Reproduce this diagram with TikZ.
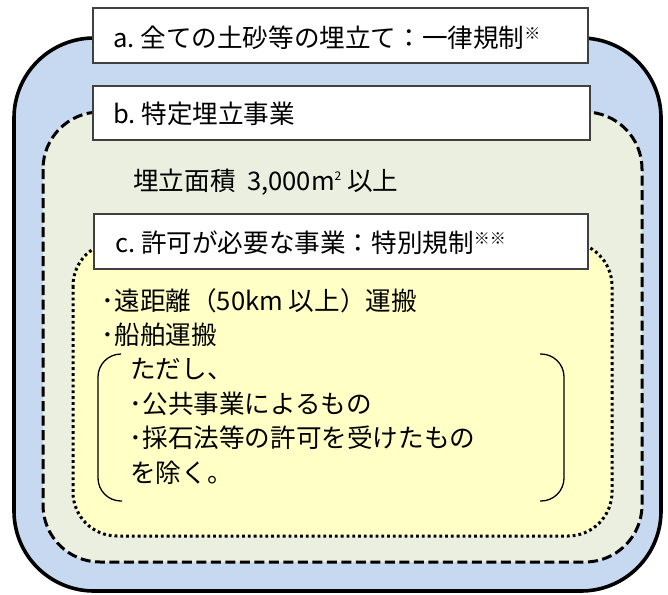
\documentclass[tikz,border=0pt]{standalone}
\usepackage{fontspec}
\setmainfont{Noto Sans CJK JP}
\definecolor{outerblue}{HTML}{C6D9F1}
\definecolor{midgreen}{HTML}{EBEFDF}
\definecolor{inneryellow}{HTML}{FFFFC6}
\definecolor{boxgray}{HTML}{404040}
\tikzset{
  labelbox/.style={draw=boxgray, line width=1.2pt, fill=white},
  txt/.style={anchor=base west, inner sep=0pt, font=\fontsize{25.6pt}{30pt}\selectfont},
  bracketline/.style={line width=1.3pt, rounded corners=23pt}
}
\newcommand{\kome}{\raisebox{8pt}{\fontsize{16pt}{17pt}\selectfont ※}}
\begin{document}
\begin{tikzpicture}[x=1pt,y=-1pt]
\useasboundingbox (0,0) rectangle (668,594);
% outer frame
\draw[line width=3.6pt, fill=outerblue, rounded corners=80pt] (14,38) rectangle (661,591);
% dashed frame
\draw[line width=3pt, dash pattern=on 10pt off 4.5pt, fill=midgreen, rounded corners=57pt] (43,112) rectangle (642,562);
% dotted frame
\draw[line width=3pt, dash pattern=on 2.8pt off 3pt, fill=inneryellow, rounded corners=44pt] (73,242) rectangle (612,536);
% label boxes
\draw[labelbox] (93,8) rectangle (588,63);
\draw[labelbox] (93,86) rectangle (590,140);
\draw[labelbox] (94,214) rectangle (588,269);
% brackets
\coordinate (bl1) at (120,354);
\coordinate (bl2) at (98,354);
\coordinate (bl3) at (98,501);
\coordinate (bl4) at (122,501);
\draw[bracketline] (bl1) -- (bl2) -- (bl3) -- (bl4);
\coordinate (br1) at (540,354);
\coordinate (br2) at (564,354);
\coordinate (br3) at (564,501);
\coordinate (br4) at (540,501);
\draw[bracketline] (br1) -- (br2) -- (br3) -- (br4);
% texts
\node[txt] (ta) at (113,48) {a.\ 全ての土砂等の埋立て：一律規制\kome};
\node[txt] (tb) at (113,123) {b.\ 特定埋立事業};
\node[txt] (tarea) at (133,190) {埋立面積 \ 3,000m\raisebox{10pt}{\fontsize{12pt}{13pt}\selectfont 2} 以上};
\node[txt] (tc) at (115,252) {c.\ 許可が必要な事業：特別規制\kome\kome};
\node[txt] (l1) at (101.5,310) {･遠距離（50km 以上）運搬};
\node[txt] (l2) at (101.5,344) {･船舶運搬};
\node[txt] (l3) at (130,378) {ただし、};
\node[txt] (l4) at (129.5,413) {･公共事業によるもの};
\node[txt] (l5) at (129.5,447) {･採石法等の許可を受けたもの};
\node[txt] (l6) at (130,482) {を除く。};
\end{tikzpicture}
\end{document}
